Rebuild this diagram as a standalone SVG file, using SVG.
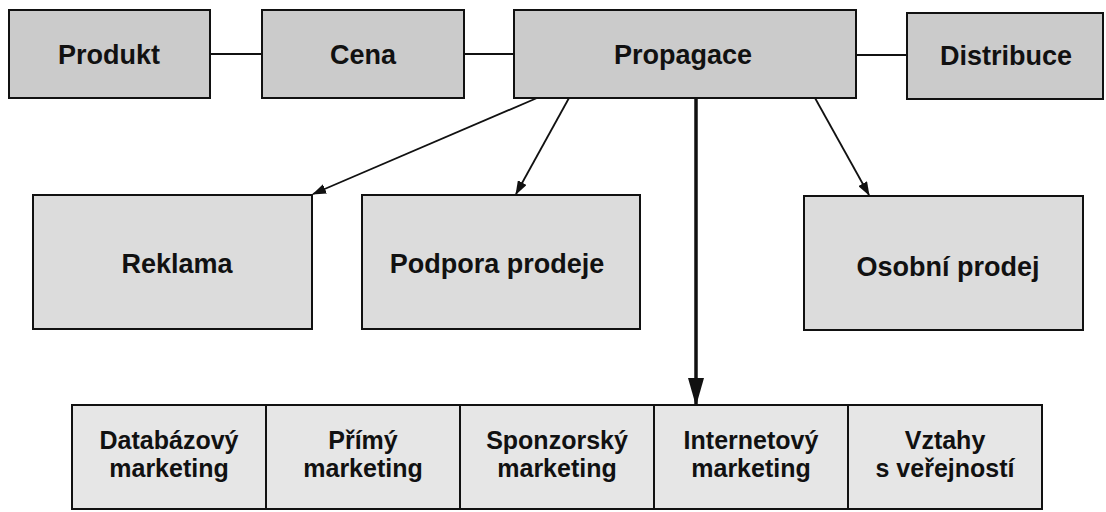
<svg xmlns="http://www.w3.org/2000/svg" width="1106" height="512" viewBox="0 0 1106 512">
<style>
.top{fill:#cbcbcb;stroke:#111;stroke-width:2}
.mid{fill:#dcdcdc;stroke:#111;stroke-width:2}
.bot{fill:#e6e6e6;stroke:#111;stroke-width:2}
text{font-family:"Liberation Sans",Arial,sans-serif;font-weight:bold;font-size:27px;fill:#111;text-anchor:middle}
.sm{font-size:25px}
.ln{stroke:#111;stroke-width:1.8;fill:none}
.thick{stroke:#111;stroke-width:3.5;fill:none}
</style>
<defs>
<marker id="ah" markerUnits="userSpaceOnUse" markerWidth="14" markerHeight="10" refX="13" refY="5" orient="auto">
<path d="M0,0 L14,5 L0,10 Z" fill="#111"/>
</marker>
<marker id="ahb" markerUnits="userSpaceOnUse" markerWidth="28" markerHeight="16" refX="27" refY="8" orient="auto">
<path d="M0,0 L28,8 L0,16 Z" fill="#111"/>
</marker>
</defs>
<rect width="1106" height="512" fill="#fff"/>
<g id="connectors">
<line class="ln" x1="210" y1="54" x2="262" y2="54"/>
<line class="ln" x1="464" y1="54" x2="514" y2="54"/>
<line class="ln" x1="856" y1="55" x2="907" y2="55"/>
<line class="ln" x1="537" y1="98" x2="313" y2="194" marker-end="url(#ah)"/>
<line class="ln" x1="569" y1="98" x2="516" y2="194" marker-end="url(#ah)"/>
<line class="thick" x1="696" y1="98" x2="696" y2="405" marker-end="url(#ahb)"/>
<line class="ln" x1="815" y1="98" x2="869" y2="195" marker-end="url(#ah)"/>
</g>
<g id="produkt"><rect class="top" x="9" y="10" width="201" height="88"/><text x="109" y="64">Produkt</text></g>
<g id="cena"><rect class="top" x="262" y="10" width="202" height="88"/><text x="363" y="64">Cena</text></g>
<g id="propagace"><rect class="top" x="514" y="10" width="342" height="88"/><text x="683" y="64">Propagace</text></g>
<g id="distribuce"><rect class="top" x="907" y="13" width="196" height="86"/><text x="1006" y="65">Distribuce</text></g>
<g id="reklama"><rect class="mid" x="33" y="195" width="279" height="134"/><text x="177" y="273">Reklama</text></g>
<g id="podpora"><rect class="mid" x="362" y="195" width="278" height="134"/><text x="497" y="273">Podpora prodeje</text></g>
<g id="osobni"><rect class="mid" x="804" y="196" width="279" height="134"/><text x="948" y="276">Osobní prodej</text></g>
<g id="databazovy"><rect class="bot" x="72" y="405" width="194" height="104"/><text class="sm" x="169" y="449">Databázový</text><text class="sm" x="169" y="477">marketing</text></g>
<g id="primy"><rect class="bot" x="266" y="405" width="194" height="104"/><text class="sm" x="363" y="449">Přímý</text><text class="sm" x="363" y="477">marketing</text></g>
<g id="sponzorsky"><rect class="bot" x="460" y="405" width="194" height="104"/><text class="sm" x="557" y="449">Sponzorský</text><text class="sm" x="557" y="477">marketing</text></g>
<g id="internetovy"><rect class="bot" x="654" y="405" width="194" height="104"/><text class="sm" x="751" y="449">Internetový</text><text class="sm" x="751" y="477">marketing</text></g>
<g id="vztahy"><rect class="bot" x="848" y="405" width="194" height="104"/><text class="sm" x="945" y="449">Vztahy</text><text class="sm" x="945" y="477">s veřejností</text></g>
</svg>
